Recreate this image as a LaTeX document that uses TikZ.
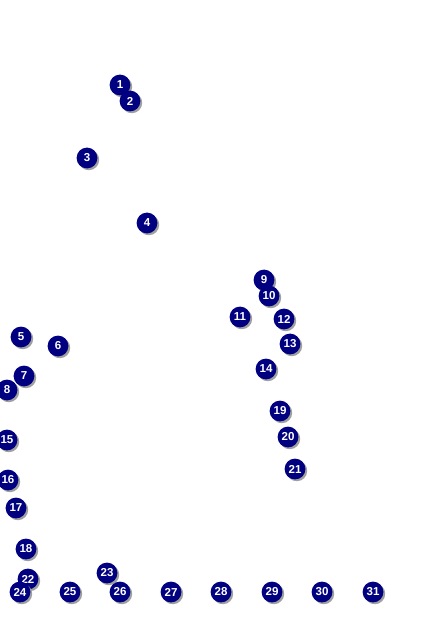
\documentclass[tikz,border=0pt]{standalone}
\usepackage{fontspec}
\setsansfont{Liberation Sans}
\usepackage{tikz}
\usetikzlibrary{shadows}
\definecolor{mkNavy}{HTML}{000080}
\definecolor{mkShadow}{HTML}{A0A0A0}

\begin{document}
\begin{tikzpicture}[x=0.025cm, y=-0.025cm]
  % obszar rysunku
  \useasboundingbox (0,0) rectangle (424,636);
  \tikzset{punkt/.style={circle, fill=mkNavy, minimum size=0.52cm, inner sep=0pt,
      text=white, font=\fontsize{8.2}{9}\sffamily\bfseries,
      drop shadow={shadow xshift=1.3pt, shadow yshift=-1.3pt, fill=mkShadow, opacity=1}}}
  % znaczniki
  \foreach \n/\x/\y in {1/120/85, 2/130/101, 3/87/158, 4/147/223,
      5/21/337, 6/58/346, 7/24/376, 8/7/390,
      9/264/280, 10/269/296, 11/240/317, 12/284/319, 13/290/344, 14/266/369,
      15/7/440, 16/8/480, 17/16/508, 18/26/549,
      19/280/411, 20/288/437, 21/295/469,
      22/28/579, 23/107/573, 24/20/592, 25/70/592, 26/120/592,
      27/171/592, 28/221/592, 29/272/592, 30/322/592, 31/373/592}
    {\node[punkt] (p\n) at (\x,\y) {\n};}
\end{tikzpicture}
\end{document}
